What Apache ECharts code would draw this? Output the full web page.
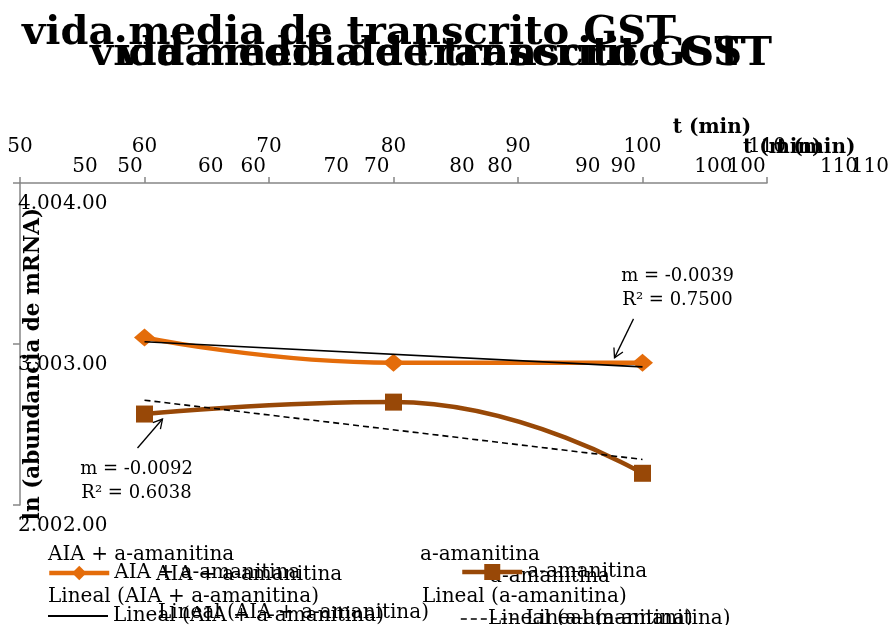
<!DOCTYPE html>
<html>
<head>
<meta charset="utf-8">
<script src="https://cdn.jsdelivr.net/npm/echarts@6/dist/echarts.min.js"></script>
<style>
  html, body { margin: 0; padding: 0; background: #ffffff; }
  #chart { width: 892px; height: 625px; }
</style>
</head>
<body>
<div id="chart"></div>
<script>
// ---- data ----
const titleText = 'vida media de transcrito GST';
const xName = 't (min)';
const yName = 'ln (abundancia de mRNA)';
const timeMin = [60, 80, 100];
const aiaValues = [3.040, 2.884, 2.884];
const amanValues = [2.565, 2.639, 2.197];
const seriesNames = ['AIA + a-amanitina', 'a-amanitina'];
const trendNames = ['Lineal (AIA + a-amanitina)', 'Lineal (a-amanitina)'];
const xTickLabels = ['50', '60', '70', '80', '90', '100', '110'];
const yTickLabels = ['2.00', '3.00', '4.00'];
const trendNotes = [['m = -0.0039', 'R² = 0.7500'], ['m = -0.0092', 'R² = 0.6038']];

// ---- styling ----
const SERIF = "'DejaVu Serif', serif";
const AXIS_GRAY = '#868686';
const ORANGE = '#E46C0A';
const BROWN = '#984807';

const X_MIN = 50, X_MAX = 110, X_STEP = 10;
const Y_MIN = 2, Y_MAX = 4, Y_STEP = 1;

function pairs(xs, ys) { return xs.map((x, i) => [x, ys[i]]); }

// least-squares line evaluated at the first and last x
function trend(xs, ys) {
  const n = xs.length;
  const mx = xs.reduce((a, b) => a + b, 0) / n;
  const my = ys.reduce((a, b) => a + b, 0) / n;
  let sxy = 0, sxx = 0;
  xs.forEach((x, i) => { sxy += (x - mx) * (ys[i] - my); sxx += (x - mx) * (x - mx); });
  const b = sxy / sxx, a = my - b * mx;
  const x0 = xs[0], x1 = xs[n - 1];
  return [[x0, a + b * x0], [x1, a + b * x1]];
}

const xLabelFmt = v => xTickLabels[Math.round((v - X_MIN) / X_STEP)] || '';
const yLabelFmt = v => yTickLabels[Math.round((v - Y_MIN) / Y_STEP)] || '';

const labelFont = { fontFamily: SERIF, fontSize: 20, color: '#000' };

const chart = echarts.init(document.getElementById('chart'), null, { renderer: 'canvas' });

function hiddenX(gridIndex) {
  return { type: 'value', gridIndex, min: X_MIN, max: X_MAX, interval: X_STEP, show: false };
}
function hiddenY(gridIndex) {
  return { type: 'value', gridIndex, min: Y_MIN, max: Y_MAX, interval: Y_STEP, show: false };
}
function labelOnlyX(gridIndex) {
  return {
    type: 'value', gridIndex, min: X_MIN, max: X_MAX, interval: X_STEP, position: 'top',
    axisLine: { show: false }, axisTick: { show: false }, splitLine: { show: false },
    axisLabel: Object.assign({ margin: 0, verticalAlign: 'middle', formatter: xLabelFmt }, labelFont)
  };
}
function labelOnlyY(gridIndex) {
  return {
    type: 'value', gridIndex, min: Y_MIN, max: Y_MAX, interval: Y_STEP,
    axisLine: { show: false }, axisTick: { show: false }, splitLine: { show: false },
    axisLabel: Object.assign({ inside: true, margin: 0, align: 'left', verticalAlign: 'middle', formatter: yLabelFmt }, labelFont)
  };
}

const legendBase = {
  orient: 'horizontal', padding: 0, itemWidth: 60, itemHeight: 18, itemGap: 0,
  textStyle: { fontFamily: SERIF, fontSize: 20, color: '#000' },
  selectedMode: false
};

const option = {
  animation: false,
  backgroundColor: '#ffffff',
  grid: [
    { left: 20, top: 183, width: 747, height: 322 },   // plot area
    { left: 85, top: 167, width: 754, height: 322 },   // repeated x labels
    { left: 130, top: 167, width: 742, height: 322 },  // repeated x labels
    { left: 18, top: 204, width: 747, height: 322 },   // y labels
    { left: 63, top: 204, width: 747, height: 322 }    // repeated y labels
  ],
  xAxis: [
    {
      type: 'value', gridIndex: 0, min: X_MIN, max: X_MAX, interval: X_STEP, position: 'top',
      axisLine: { show: true, lineStyle: { color: AXIS_GRAY, width: 1.5 } },
      axisTick: { show: true, length: 6, lineStyle: { color: AXIS_GRAY, width: 1.5 } },
      splitLine: { show: false },
      axisLabel: Object.assign({ margin: 36, verticalAlign: 'middle', formatter: xLabelFmt, showMinLabel: true, showMaxLabel: true }, labelFont)
    },
    labelOnlyX(1),
    labelOnlyX(2),
    hiddenX(3),
    hiddenX(4)
  ],
  yAxis: [
    {
      type: 'value', gridIndex: 0, min: Y_MIN, max: Y_MAX, interval: Y_STEP,
      axisLine: { show: true, lineStyle: { color: AXIS_GRAY, width: 1.5 } },
      axisTick: { show: true, length: 7, lineStyle: { color: AXIS_GRAY, width: 1.5 } },
      splitLine: { show: false },
      axisLabel: { show: false }
    },
    hiddenY(1),
    hiddenY(2),
    labelOnlyY(3),
    labelOnlyY(4)
  ],
  legend: [
    Object.assign({}, legendBase, { left: 47, top: 563, data: [seriesNames[0]], lineStyle: { width: 4.5 } }),
    Object.assign({}, legendBase, { left: 460, top: 562, itemHeight: 20, data: [seriesNames[1]], lineStyle: { width: 4.5 } }),
    Object.assign({}, legendBase, { left: 47, top: 606, data: [trendNames[0]], lineStyle: { width: 2 }, itemStyle: { opacity: 0 } }),
    Object.assign({}, legendBase, { left: 460, top: 609, data: [trendNames[1]], lineStyle: { width: 1.6 }, itemStyle: { opacity: 0 } })
  ],
  series: [
    {
      name: seriesNames[0], type: 'line', xAxisIndex: 0, yAxisIndex: 0,
      data: pairs(timeMin, aiaValues), smooth: 0.5,
      symbol: 'diamond', symbolSize: [21, 18],
      lineStyle: { color: ORANGE, width: 4.5 }, itemStyle: { color: ORANGE }, z: 2
    },
    {
      name: seriesNames[1], type: 'line', xAxisIndex: 0, yAxisIndex: 0,
      data: pairs(timeMin, amanValues), smooth: 0.5,
      symbol: 'rect', symbolSize: 17,
      lineStyle: { color: BROWN, width: 4.5 }, itemStyle: { color: BROWN }, z: 2
    },
    {
      name: trendNames[0], type: 'line', xAxisIndex: 0, yAxisIndex: 0,
      data: trend(timeMin, aiaValues), symbol: 'none',
      lineStyle: { color: '#000', width: 1.6 }, itemStyle: { color: '#000' }, z: 3
    },
    {
      name: trendNames[1], type: 'line', xAxisIndex: 0, yAxisIndex: 0,
      data: trend(timeMin, amanValues), symbol: 'none',
      lineStyle: { color: '#000', width: 1.6, type: [6, 4] }, itemStyle: { color: '#000' }, z: 3
    }
  ]
};

chart.setOption(option);

// ---- texts and arrows placed around the plot ----
function txt(text, x, y, opts) {
  return {
    type: 'text', x, y, silent: true,
    style: Object.assign({
      text, fill: '#000', font: '20px ' + SERIF, textAlign: 'left', textVerticalAlign: 'middle'
    }, opts || {})
  };
}

function arrow(tail, head) {
  const dx = head[0] - tail[0], dy = head[1] - tail[1];
  const len = Math.hypot(dx, dy), ux = dx / len, uy = dy / len;
  const hl = 9, hw = 5;
  const bx = head[0] - ux * hl, by = head[1] - uy * hl;
  return [
    { type: 'line', silent: true, shape: { x1: tail[0], y1: tail[1], x2: head[0], y2: head[1] }, style: { stroke: '#000', lineWidth: 1.3 } },
    { type: 'polyline', silent: true, shape: { points: [[bx - uy * hw, by + ux * hw], head, [bx + uy * hw, by - ux * hw]] }, style: { stroke: '#000', lineWidth: 1.3, fill: null } }
  ];
}

const tA = trend(timeMin, aiaValues);
const endA = chart.convertToPixel({ gridIndex: 0 }, tA[1]);
const startB = chart.convertToPixel({ gridIndex: 0 }, [timeMin[0], amanValues[0]]);

const noteFont = '18px ' + SERIF;
const titleFont = 'bold 40px ' + SERIF;
const graphics = [
  // title, printed twice on the second line
  txt(titleText, 22, 34, { font: titleFont }),
  txt(titleText, 90, 55, { font: titleFont }),
  txt(titleText, 118, 55, { font: titleFont }),
  // axis names
  txt(xName, 712, 128, { font: 'bold 20px ' + SERIF, textAlign: 'center' }),
  txt(xName, 743, 148, { font: 'bold 20px ' + SERIF }),
  txt(xName, 777, 148, { font: 'bold 20px ' + SERIF }),
  {
    type: 'text', x: 33, y: 364, rotation: Math.PI / 2, silent: true,
    style: { text: yName, fill: '#000', font: 'bold 21.5px ' + SERIF, textAlign: 'center', textVerticalAlign: 'middle' }
  },
  // legend headings and repeated legend texts
  txt(seriesNames[0], 48, 555),
  txt(seriesNames[1], 420, 555),
  txt(trendNames[0], 48, 597),
  txt(trendNames[1], 422, 597),
  txt(seriesNames[0], 156, 575),
  txt(seriesNames[1], 490, 577),
  txt(trendNames[0], 158, 613),
  txt(trendNames[1], 488, 619),
  // regression notes
  txt(trendNotes[0][0], endA[0] + 35, endA[1] - 91, { font: noteFont, textAlign: 'center' }),
  txt(trendNotes[0][1], endA[0] + 35, endA[1] - 67, { font: noteFont, textAlign: 'center' }),
  txt(trendNotes[1][0], startB[0] - 8, startB[1] + 55, { font: noteFont, textAlign: 'center' }),
  txt(trendNotes[1][1], startB[0] - 8, startB[1] + 79, { font: noteFont, textAlign: 'center' })
]
  .concat(arrow([endA[0] - 9, endA[1] - 48], [endA[0] - 28, endA[1] - 9]))
  .concat(arrow([startB[0] - 7, startB[1] + 34], [startB[0] + 18, startB[1] + 5]));

chart.setOption({ graphic: graphics });
</script>
</body>
</html>
